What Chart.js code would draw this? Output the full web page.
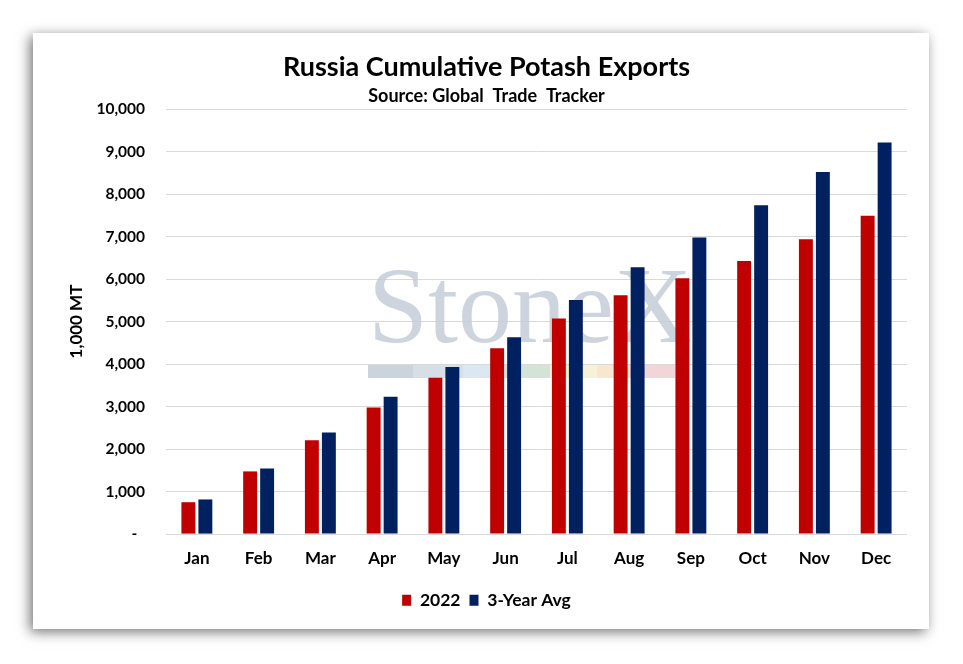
<!DOCTYPE html>
<html>
<head>
<meta charset="utf-8">
<script src="https://cdn.jsdelivr.net/npm/chart.js@4.4.1/dist/chart.umd.min.js"></script>
<style>
  html, body { margin: 0; padding: 0; background: #ffffff; width: 963px; height: 664px; overflow: hidden; }
  #card { position: absolute; left: 33px; top: 33px; width: 896px; height: 596px; background: #ffffff;
          box-shadow: -3px 3px 12px rgba(0,0,0,0.55); }
  canvas { display: block; }
</style>
</head>
<body>
<div id="card"><canvas id="c" width="896" height="596"></canvas></div>
<script>
const categories = ['Jan','Feb','Mar','Apr','May','Jun','Jul','Aug','Sep','Oct','Nov','Dec'];
const series2022 = [750, 1475, 2210, 2980, 3680, 4370, 5070, 5620, 6020, 6425, 6935, 7490];
const series3YrAvg = [815, 1545, 2390, 3230, 3930, 4630, 5505, 6275, 6980, 7735, 8520, 9210];
const yTicks = [0, 1000, 2000, 3000, 4000, 5000, 6000, 7000, 8000, 9000, 10000];
const seriesNames = ['2022', '3-Year Avg'];
const titleText = 'Russia Cumulative Potash Exports';
const subtitleText = 'Source: Global  Trade  Tracker';
const yAxisTitle = '1,000 MT';
const watermarkText = 'StoneX';

const FONT = 'Lato, "Open Sans", sans-serif';

const watermark = {
  id: 'watermark',
  beforeDatasetsDraw(chart) {
    const ctx = chart.ctx;
    const a = chart.chartArea;
    ctx.save();
    ctx.fillStyle = 'rgba(196,205,216,0.85)';
    ctx.font = '108px "Liberation Serif", "DejaVu Serif", serif';
    ctx.textBaseline = 'alphabetic';
    ctx.textAlign = 'left';
    const x0 = a.left + 202;
    ctx.fillText(watermarkText, x0, a.top + 233);
    const stripe = [
      [0, 45, '#cbd3dc'], [45, 95, '#d6dee6'], [95, 137, '#dce8f1'], [137, 182, '#d4e3d7'],
      [182, 229, '#f5f2d9'], [229, 262, '#f8e6cf'], [262, 307, '#f1d5d7']
    ];
    const sy = a.top + 256;
    stripe.forEach(s => { ctx.fillStyle = s[2]; ctx.fillRect(x0 + s[0], sy, s[1] - s[0], 13); });
    ctx.restore();
  }
};

new Chart(document.getElementById('c'), {
  type: 'bar',
  data: {
    labels: categories,
    datasets: [
      { label: seriesNames[0], data: series2022, backgroundColor: '#c00000', borderWidth: 0 },
      { label: seriesNames[1], data: series3YrAvg, backgroundColor: '#002060', borderWidth: 0 }
    ]
  },
  options: {
    responsive: false,
    animation: false,
    devicePixelRatio: 1,
    datasets: { bar: { categoryPercentage: 0.55, barPercentage: 0.82 } },
    layout: { padding: { left: 33, right: 22, top: 0, bottom: 10 } },
    plugins: {
      title: { display: true, text: titleText, color: '#000000',
               font: { family: FONT, size: 27, weight: 'bold' }, padding: { top: 18, bottom: 2 } },
      subtitle: { display: true, text: subtitleText, color: '#000000',
               font: { family: FONT, size: 18, weight: 'bold' }, padding: { top: 0, bottom: 2 } },
      legend: { position: 'bottom', labels: { color: '#000000', boxWidth: 9, boxHeight: 11, padding: 9,
               font: { family: FONT, size: 17.5, weight: 'bold' } } },
      tooltip: { enabled: false }
    },
    scales: {
      x: {
        grid: { display: false, drawTicks: false },
        border: { display: false },
        ticks: { color: '#000000', padding: 14, font: { family: FONT, size: 17, weight: 'bold' } }
      },
      y: {
        min: 0, max: 10000,
        afterBuildTicks(scale) { scale.ticks = yTicks.map(v => ({ value: v })); },
        afterFit(scale) { scale.width = 100; },
        grid: { color: '#d9d9d9', lineWidth: 1, drawTicks: false },
        border: { display: false },
        title: { display: true, text: yAxisTitle, color: '#000000', padding: 0,
                 font: { family: FONT, size: 17, weight: 'bold' } },
        ticks: { color: '#000000', padding: 21, font: { family: FONT, size: 15.5, weight: 'bold' },
                 callback: v => v === 0 ? '-\u2002' : v.toLocaleString('en-US') }
      }
    }
  },
  plugins: [watermark]
});
</script>
</body>
</html>
